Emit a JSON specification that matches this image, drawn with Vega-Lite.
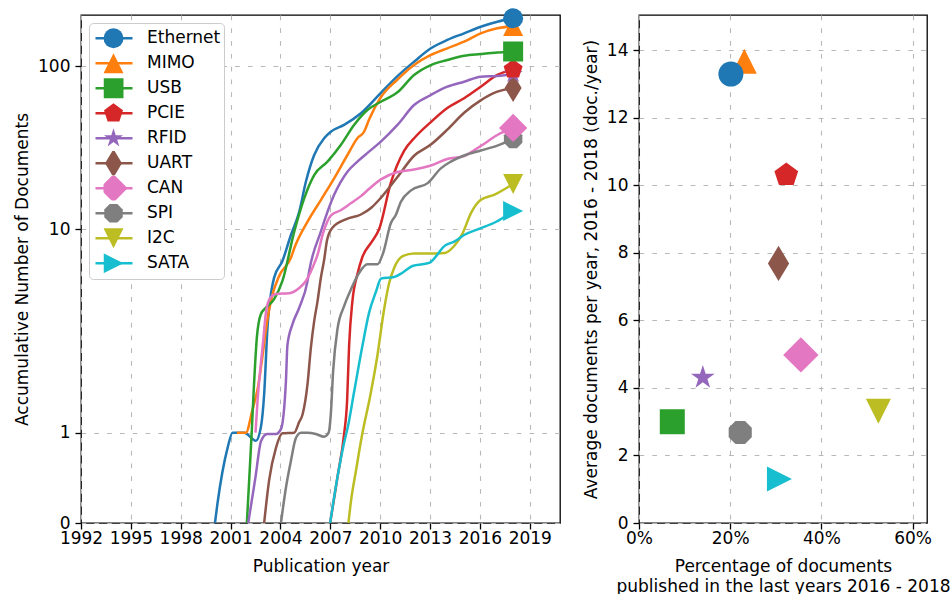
{
  "$schema": "https://vega.github.io/schema/vega-lite/v6.json",
  "background": "white",
  "padding": {"left": 12, "top": 7, "right": 0, "bottom": 0},
  "datasets": {
    "curves": [
      {"series":"Ethernet","year":2000.06,"docs":0},{"series":"Ethernet","year":2000.21,"docs":0.16},{"series":"Ethernet","year":2000.82,"docs":0.78},{"series":"Ethernet","year":2001.12,"docs":1.0},{"series":"Ethernet","year":2001.82,"docs":1.0},{"series":"Ethernet","year":2002.52,"docs":0.88},{"series":"Ethernet","year":2002.82,"docs":1.09},{"series":"Ethernet","year":2003.02,"docs":1.76},{"series":"Ethernet","year":2003.22,"docs":3.82},{"series":"Ethernet","year":2003.62,"docs":6.32},{"series":"Ethernet","year":2004.12,"docs":7.42},{"series":"Ethernet","year":2004.63,"docs":9.46},{"series":"Ethernet","year":2005.13,"docs":12.9},{"series":"Ethernet","year":2005.53,"docs":19.9},{"series":"Ethernet","year":2006.03,"docs":29.1},{"series":"Ethernet","year":2006.63,"docs":36.8},{"series":"Ethernet","year":2007.03,"docs":40.3},{"series":"Ethernet","year":2007.83,"docs":44.3},{"series":"Ethernet","year":2008.84,"docs":52.1},{"series":"Ethernet","year":2010.04,"docs":69},{"series":"Ethernet","year":2011.04,"docs":87},{"series":"Ethernet","year":2012.04,"docs":106.3},{"series":"Ethernet","year":2013.05,"docs":128.5},{"series":"Ethernet","year":2014.04,"docs":144.5},{"series":"Ethernet","year":2015.05,"docs":158.8},{"series":"Ethernet","year":2016.05,"docs":174.3},{"series":"Ethernet","year":2017.05,"docs":187.1},{"series":"Ethernet","year":2018,"docs":196.3},
      {"series":"MIMO","year":2001.38,"docs":1.0},{"series":"MIMO","year":2001.92,"docs":1.0},{"series":"MIMO","year":2002.3,"docs":1.4},{"series":"MIMO","year":2002.66,"docs":1.96},{"series":"MIMO","year":2002.96,"docs":2.96},{"series":"MIMO","year":2003.2,"docs":4.09},{"series":"MIMO","year":2003.5,"docs":5.28},{"series":"MIMO","year":2003.92,"docs":6.42},{"series":"MIMO","year":2004.65,"docs":7.7},{"series":"MIMO","year":2004.83,"docs":8.36},{"series":"MIMO","year":2005.63,"docs":11.15},{"series":"MIMO","year":2006.43,"docs":15.3},{"series":"MIMO","year":2007.23,"docs":20.9},{"series":"MIMO","year":2008.03,"docs":29.1},{"series":"MIMO","year":2008.63,"docs":36.8},{"series":"MIMO","year":2009.03,"docs":40.3},{"series":"MIMO","year":2009.34,"docs":48},{"series":"MIMO","year":2010.04,"docs":65},{"series":"MIMO","year":2011.04,"docs":83},{"series":"MIMO","year":2012.04,"docs":101.4},{"series":"MIMO","year":2013.05,"docs":116.9},{"series":"MIMO","year":2014.04,"docs":128.5},{"series":"MIMO","year":2015.05,"docs":141},{"series":"MIMO","year":2016.05,"docs":158.8},{"series":"MIMO","year":2017.05,"docs":170.4},{"series":"MIMO","year":2018,"docs":176},
      {"series":"USB","year":2001.98,"docs":0},{"series":"USB","year":2002.18,"docs":0.61},{"series":"USB","year":2002.27,"docs":1.0},{"series":"USB","year":2002.38,"docs":1.76},{"series":"USB","year":2002.58,"docs":3.43},{"series":"USB","year":2002.82,"docs":4.39},{"series":"USB","year":2003.12,"docs":4.69},{"series":"USB","year":2003.62,"docs":5.12},{"series":"USB","year":2004.12,"docs":6.12},{"series":"USB","year":2004.83,"docs":9.76},{"series":"USB","year":2005.43,"docs":15.7},{"series":"USB","year":2006.03,"docs":21.9},{"series":"USB","year":2006.83,"docs":26.5},{"series":"USB","year":2007.63,"docs":33.5},{"series":"USB","year":2008.43,"docs":44.3},{"series":"USB","year":2009.23,"docs":54.5},{"series":"USB","year":2010.04,"docs":61.1},{"series":"USB","year":2011.04,"docs":69.6},{"series":"USB","year":2012.04,"docs":88.4},{"series":"USB","year":2013.05,"docs":101.4},{"series":"USB","year":2014.04,"docs":108.9},{"series":"USB","year":2015.05,"docs":115.7},{"series":"USB","year":2016.05,"docs":118.5},{"series":"USB","year":2017.05,"docs":121.1},{"series":"USB","year":2018,"docs":122.8},
      {"series":"PCIE","year":2006.99,"docs":0},{"series":"PCIE","year":2007.43,"docs":0.42},{"series":"PCIE","year":2007.83,"docs":0.98},{"series":"PCIE","year":2008.01,"docs":1.61},{"series":"PCIE","year":2008.13,"docs":3.13},{"series":"PCIE","year":2008.33,"docs":5.02},{"series":"PCIE","year":2008.63,"docs":6.53},{"series":"PCIE","year":2008.93,"docs":7.7},{"series":"PCIE","year":2009.53,"docs":8.95},{"series":"PCIE","year":2009.94,"docs":10.0},{"series":"PCIE","year":2010.64,"docs":19.6},{"series":"PCIE","year":2011.44,"docs":30.8},{"series":"PCIE","year":2012.14,"docs":37.7},{"series":"PCIE","year":2013.05,"docs":46.1},{"series":"PCIE","year":2014.04,"docs":56},{"series":"PCIE","year":2015.05,"docs":64.1},{"series":"PCIE","year":2016.05,"docs":75.2},{"series":"PCIE","year":2017.05,"docs":88.4},{"series":"PCIE","year":2018,"docs":95.5},
      {"series":"RFID","year":2002.06,"docs":0},{"series":"RFID","year":2002.48,"docs":0.4},{"series":"RFID","year":2002.84,"docs":0.88},{"series":"RFID","year":2003.2,"docs":0.98},{"series":"RFID","year":2003.73,"docs":0.98},{"series":"RFID","year":2004.03,"docs":1.06},{"series":"RFID","year":2004.33,"docs":2.08},{"series":"RFID","year":2004.42,"docs":3.16},{"series":"RFID","year":2004.72,"docs":3.95},{"series":"RFID","year":2005.13,"docs":4.69},{"series":"RFID","year":2005.63,"docs":6.12},{"series":"RFID","year":2005.73,"docs":6.74},{"series":"RFID","year":2006.43,"docs":9.76},{"series":"RFID","year":2007.23,"docs":16.5},{"series":"RFID","year":2008.03,"docs":23},{"series":"RFID","year":2008.63,"docs":26.5},{"series":"RFID","year":2009.33,"docs":30.5},{"series":"RFID","year":2010.04,"docs":35.1},{"series":"RFID","year":2011.04,"docs":44.3},{"series":"RFID","year":2012.04,"docs":58.4},{"series":"RFID","year":2013.05,"docs":67.1},{"series":"RFID","year":2014.04,"docs":75.2},{"series":"RFID","year":2015.05,"docs":80.6},{"series":"RFID","year":2016.05,"docs":86.3},{"series":"RFID","year":2017.05,"docs":87.2},{"series":"RFID","year":2018,"docs":89.6},
      {"series":"UART","year":2003.02,"docs":0},{"series":"UART","year":2003.32,"docs":0.39},{"series":"UART","year":2003.73,"docs":0.78},{"series":"UART","year":2004.12,"docs":0.99},{"series":"UART","year":2004.83,"docs":1.0},{"series":"UART","year":2005.13,"docs":1.19},{"series":"UART","year":2005.33,"docs":1.33},{"series":"UART","year":2005.63,"docs":2.01},{"series":"UART","year":2005.83,"docs":3.07},{"series":"UART","year":2006.03,"docs":4.09},{"series":"UART","year":2006.23,"docs":5.0},{"series":"UART","year":2006.43,"docs":6.3},{"series":"UART","year":2006.63,"docs":7.5},{"series":"UART","year":2006.8,"docs":9.0},{"series":"UART","year":2007.13,"docs":10.2},{"series":"UART","year":2007.93,"docs":11.55},{"series":"UART","year":2008.84,"docs":12.4},{"series":"UART","year":2009.5,"docs":13.8},{"series":"UART","year":2010.04,"docs":15.8},{"series":"UART","year":2011.04,"docs":21.3},{"series":"UART","year":2012.04,"docs":28.8},{"series":"UART","year":2013.05,"docs":33.7},{"series":"UART","year":2014.04,"docs":41.5},{"series":"UART","year":2015.05,"docs":52.5},{"series":"UART","year":2016.05,"docs":62.3},{"series":"UART","year":2017.05,"docs":70.2},{"series":"UART","year":2018,"docs":74},
      {"series":"CAN","year":2002.5,"docs":1.0},{"series":"CAN","year":2002.62,"docs":1.6},{"series":"CAN","year":2002.96,"docs":3.3},{"series":"CAN","year":2003.14,"docs":4.54},{"series":"CAN","year":2003.38,"docs":5.18},{"series":"CAN","year":2003.73,"docs":5.39},{"series":"CAN","year":2004.53,"docs":5.42},{"series":"CAN","year":2005.13,"docs":5.71},{"series":"CAN","year":2005.53,"docs":6.12},{"series":"CAN","year":2005.93,"docs":6.96},{"series":"CAN","year":2006.23,"docs":7.85},{"series":"CAN","year":2006.57,"docs":9.64},{"series":"CAN","year":2007.03,"docs":12.2},{"series":"CAN","year":2007.63,"docs":13.2},{"series":"CAN","year":2008.23,"docs":14.6},{"series":"CAN","year":2008.84,"docs":16.2},{"series":"CAN","year":2009.34,"docs":18.0},{"series":"CAN","year":2010.04,"docs":20.6},{"series":"CAN","year":2011.04,"docs":22.9},{"series":"CAN","year":2012.04,"docs":23.7},{"series":"CAN","year":2013.05,"docs":25.1},{"series":"CAN","year":2014.04,"docs":27.5},{"series":"CAN","year":2015.05,"docs":28.7},{"series":"CAN","year":2016.05,"docs":33},{"series":"CAN","year":2017.05,"docs":38.5},{"series":"CAN","year":2018,"docs":42.5},
      {"series":"SPI","year":2004.03,"docs":0},{"series":"SPI","year":2004.33,"docs":0.31},{"series":"SPI","year":2004.63,"docs":0.61},{"series":"SPI","year":2004.93,"docs":0.92},{"series":"SPI","year":2005.23,"docs":1.0},{"series":"SPI","year":2005.63,"docs":1.0},{"series":"SPI","year":2006.13,"docs":0.98},{"series":"SPI","year":2006.63,"docs":0.94},{"series":"SPI","year":2006.9,"docs":1.0},{"series":"SPI","year":2007.03,"docs":1.33},{"series":"SPI","year":2007.17,"docs":2.35},{"series":"SPI","year":2007.43,"docs":3.76},{"series":"SPI","year":2007.83,"docs":4.77},{"series":"SPI","year":2008.24,"docs":5.63},{"series":"SPI","year":2008.74,"docs":6.63},{"series":"SPI","year":2009.23,"docs":7.19},{"series":"SPI","year":2009.84,"docs":7.19},{"series":"SPI","year":2010.18,"docs":8.0},{"series":"SPI","year":2010.64,"docs":10.9},{"series":"SPI","year":2010.94,"docs":12.3},{"series":"SPI","year":2011.24,"docs":14.9},{"series":"SPI","year":2011.86,"docs":17.6},{"series":"SPI","year":2012.88,"docs":19.6},{"series":"SPI","year":2013.65,"docs":24.1},{"series":"SPI","year":2014.25,"docs":26.5},{"series":"SPI","year":2015.05,"docs":28.9},{"series":"SPI","year":2016.05,"docs":31},{"series":"SPI","year":2017.05,"docs":33.2},{"series":"SPI","year":2018,"docs":36.4},
      {"series":"I2C","year":2008.09,"docs":0},{"series":"I2C","year":2008.25,"docs":0.19},{"series":"I2C","year":2008.54,"docs":0.49},{"series":"I2C","year":2008.93,"docs":0.99},{"series":"I2C","year":2009.4,"docs":1.72},{"series":"I2C","year":2009.82,"docs":2.77},{"series":"I2C","year":2010.24,"docs":4.63},{"series":"I2C","year":2010.54,"docs":6.0},{"series":"I2C","year":2010.84,"docs":6.94},{"series":"I2C","year":2011.38,"docs":7.78},{"series":"I2C","year":2012.04,"docs":7.96},{"series":"I2C","year":2012.94,"docs":7.96},{"series":"I2C","year":2013.9,"docs":8.0},{"series":"I2C","year":2014.45,"docs":8.54},{"series":"I2C","year":2014.93,"docs":9.51},{"series":"I2C","year":2015.47,"docs":12.7},{"series":"I2C","year":2016.04,"docs":15.3},{"series":"I2C","year":2016.85,"docs":16.5},{"series":"I2C","year":2018,"docs":19.3},
      {"series":"SATA","year":2006.99,"docs":0},{"series":"SATA","year":2007.43,"docs":0.42},{"series":"SATA","year":2007.83,"docs":0.85},{"series":"SATA","year":2008.07,"docs":1.12},{"series":"SATA","year":2008.43,"docs":1.81},{"series":"SATA","year":2008.93,"docs":3.13},{"series":"SATA","year":2009.33,"docs":4.45},{"series":"SATA","year":2009.74,"docs":5.49},{"series":"SATA","year":2010.06,"docs":6.27},{"series":"SATA","year":2010.84,"docs":6.36},{"series":"SATA","year":2011.34,"docs":6.63},{"series":"SATA","year":2011.94,"docs":7.07},{"series":"SATA","year":2012.94,"docs":7.28},{"series":"SATA","year":2013.95,"docs":8.62},{"series":"SATA","year":2014.45,"docs":8.89},{"series":"SATA","year":2015.05,"docs":9.46},{"series":"SATA","year":2015.95,"docs":10.03},{"series":"SATA","year":2016.95,"docs":11.1},{"series":"SATA","year":2018,"docs":13.05}
    ],
    "summary": [
      {"series":"Ethernet","idx":0,"share":0.2015,"rate":13.3,"final":196.3},
      {"series":"MIMO","idx":1,"share":0.231,"rate":13.68,"final":176},
      {"series":"USB","idx":2,"share":0.073,"rate":3.0,"final":122.8},
      {"series":"PCIE","idx":3,"share":0.323,"rate":10.31,"final":95.5},
      {"series":"RFID","idx":4,"share":0.14,"rate":4.31,"final":89.6},
      {"series":"UART","idx":5,"share":0.306,"rate":7.69,"final":74},
      {"series":"CAN","idx":6,"share":0.355,"rate":4.98,"final":42.5},
      {"series":"SPI","idx":7,"share":0.222,"rate":2.68,"final":36.4},
      {"series":"I2C","idx":8,"share":0.525,"rate":3.31,"final":19.3},
      {"series":"SATA","idx":9,"share":0.308,"rate":1.3,"final":13.05}
    ]
  },
  "spacing": 20,
  "resolve": {"scale": {"fill": "independent", "shape": "independent", "stroke": "independent"}},
  "hconcat": [
    {
      "width": 479,
      "height": 508,
      "layer": [
        {
          "data": {"name": "curves"},
          "mark": {"type": "line", "interpolate": "monotone", "strokeWidth": 2.5},
          "encoding": {
            "x": {"field": "year", "type": "quantitative",
                  "scale": {"domain": [1992, 2020.82], "nice": false, "zero": false},
                  "axis": {"values": [1992,1995,1998,2001,2004,2007,2010,2013,2016,2019], "format": "d", "title": "Publication year"}},
            "y": {"field": "docs", "type": "quantitative",
                  "scale": {"type": "symlog", "domain": [0, 1, 10, 100, 205.6], "range": [508, 417.7, 214, 51, 0], "nice": false, "zero": false},
                  "axis": {"values": [0, 1, 10, 100], "format": "d", "title": "Accumulative Number of Documents"}},
            "stroke": {"field": "series", "type": "nominal",
                  "scale": {"domain": ["Ethernet","MIMO","USB","PCIE","RFID","UART","CAN","SPI","I2C","SATA"],
                            "range": ["#1f77b4","#ff7f0e","#2ca02c","#d62728","#9467bd","#8c564b","#e377c2","#7f7f7f","#bcbd22","#17becf"]},
                  "legend": {"orient": "top-left", "offset": 8, "title": null, "symbolType": "stroke", "symbolSize": 1369, "symbolStrokeWidth": 2.5,
                             "labelFontSize": 17, "labelColor": "black", "labelOffset": 13, "padding": 3, "rowPadding": 0, "clipHeight": 24.6,
                             "strokeColor": "#cccccc", "fillColor": "white", "cornerRadius": 4, "zindex": 1, "symbolOffset": 2}}
          }
        },
        {
          "data": {"name": "summary"},
          "mark": {"type": "point", "filled": true, "size": 400, "opacity": 1},
          "encoding": {
            "x": {"datum": 2018, "type": "quantitative"},
            "y": {"field": "final", "type": "quantitative", "axis": {"values": [0, 1, 10, 100], "format": "d", "title": "Accumulative Number of Documents"}},
            "fill": {"field": "series", "type": "nominal", "sort": null,
                  "scale": {"range": ["#1f77b4","#ff7f0e","#2ca02c","#d62728","#9467bd","#8c564b","#e377c2","#7f7f7f","#bcbd22","#17becf"]},
                  "legend": {"orient": "none", "legendX": 19.5, "legendY": 8, "title": null, "symbolSize": 400, "symbolStrokeWidth": 0,
                             "labelFontSize": 17, "labelExpr": "''", "labelOffset": 13, "padding": 3, "rowPadding": 0, "clipHeight": 24.6, "zindex": 2}},
            "shape": {"field": "series", "type": "nominal", "sort": null,
                  "scale": {"range": ["circle","M0,-1L1,1L-1,1Z","square","M0,-1L0.951,-0.309L0.588,0.809L-0.588,0.809L-0.951,-0.309Z","M0,-1L0.2245,-0.309L0.951,-0.309L0.3633,0.118L0.588,0.809L0,0.382L-0.588,0.809L-0.3633,0.118L-0.951,-0.309L-0.2245,-0.309Z","M0,-1.414L0.849,0L0,1.414L-0.849,0Z","M0,-1.414L1.414,0L0,1.414L-1.414,0Z","M-0.383,-0.924L0.383,-0.924L0.924,-0.383L0.924,0.383L0.383,0.924L-0.383,0.924L-0.924,0.383L-0.924,-0.383Z","M0,1L1,-1L-1,-1Z","M1,0L-1,-1L-1,1Z"]},
                  "legend": {"orient": "none", "legendX": 19.5, "legendY": 8, "title": null, "symbolSize": 400, "symbolStrokeWidth": 0,
                             "labelFontSize": 17, "labelExpr": "''", "labelOffset": 13, "padding": 3, "rowPadding": 0, "clipHeight": 24.6, "zindex": 2}},
            "order": {"field": "idx", "sort": "descending"}
          }
        }
      ]
    },
    {
      "width": 288,
      "height": 508,
      "data": {"name": "summary"},
      "mark": {"type": "point", "filled": true, "size": 625, "opacity": 1},
      "encoding": {
        "x": {"field": "share", "type": "quantitative", "scale": {"domain": [0, 0.6316], "nice": false, "zero": false},
              "axis": {"values": [0, 0.2, 0.4, 0.6], "format": ".0%", "title": ["Percentage of documents", "published in the last years 2016 - 2018"], "titleLineHeight": 19.5}},
        "y": {"field": "rate", "type": "quantitative", "scale": {"domain": [0, 15.05], "nice": false, "zero": false},
              "axis": {"values": [0, 2, 4, 6, 8, 10, 12, 14], "title": "Average documents per year, 2016 - 2018 (doc./year)"}},
        "fill": {"field": "series", "type": "nominal",
              "scale": {"domain": ["Ethernet","MIMO","USB","PCIE","RFID","UART","CAN","SPI","I2C","SATA"],
                        "range": ["#1f77b4","#ff7f0e","#2ca02c","#d62728","#9467bd","#8c564b","#e377c2","#7f7f7f","#bcbd22","#17becf"]},
              "legend": null},
        "shape": {"field": "series", "type": "nominal",
              "scale": {"domain": ["Ethernet","MIMO","USB","PCIE","RFID","UART","CAN","SPI","I2C","SATA"],
                        "range": ["circle","M0,-1L1,1L-1,1Z","square","M0,-1L0.951,-0.309L0.588,0.809L-0.588,0.809L-0.951,-0.309Z","M0,-1L0.2245,-0.309L0.951,-0.309L0.3633,0.118L0.588,0.809L0,0.382L-0.588,0.809L-0.3633,0.118L-0.951,-0.309L-0.2245,-0.309Z","M0,-1.414L0.849,0L0,1.414L-0.849,0Z","M0,-1.414L1.414,0L0,1.414L-1.414,0Z","M-0.383,-0.924L0.383,-0.924L0.924,-0.383L0.924,0.383L0.383,0.924L-0.383,0.924L-0.924,0.383L-0.924,-0.383Z","M0,1L1,-1L-1,-1Z","M1,0L-1,-1L-1,1Z"]},
              "legend": null},
        "order": {"field": "idx", "sort": "descending"}
      }
    }
  ],
  "config": {
    "font": "DejaVu Sans",
    "view": {"stroke": "black", "strokeWidth": 1.3},
    "axis": {"domain": false, "tickColor": "black", "tickSize": 6, "tickWidth": 1.3, "labelFont": "DejaVu Sans", "labelFontSize": 17, "labelColor": "black",
             "titleFont": "DejaVu Sans", "titleFontSize": 17, "titleFontWeight": "normal", "titleColor": "black", "labelPadding": 5, "titlePadding": 6,
             "gridColor": "#b8b8b8", "gridDash": [4.7, 8.1], "gridWidth": 1.1, "labelOverlap": false, "labelFlush": false, "labelBound": false},
    "axisX": {"labelPadding": 1.5, "titlePadding": 12},
    "legend": {"labelFont": "DejaVu Sans", "labelFontSize": 17, "labelColor": "black"}
  }
}
